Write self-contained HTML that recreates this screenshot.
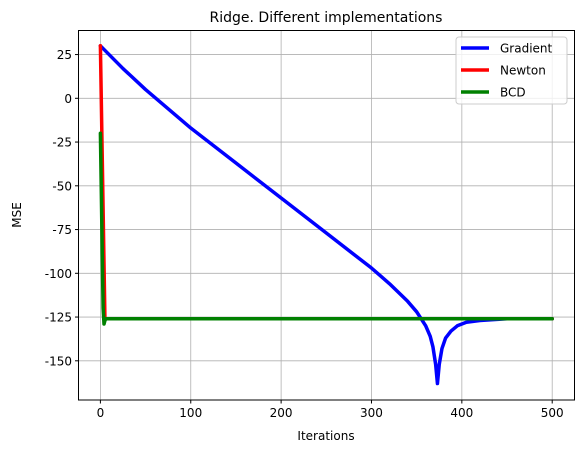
<!DOCTYPE html>
<html><head><meta charset="utf-8"><style>
body{margin:0;background:#fff;}
svg{font-family:"DejaVu Sans","Liberation Sans",sans-serif;}
</style></head><body>
<svg id="chart" width="583" height="453" viewBox="0 0 583 453" xmlns="http://www.w3.org/2000/svg">
<rect width="583" height="453" fill="#fff"/>
<text x="326" y="22" font-size="14" text-anchor="middle" fill="#000">Ridge. Different implementations</text>
<g id="grid"></g>
<g id="series"></g>
<rect x="78.5" y="30.5" width="496" height="369.5" fill="none" stroke="#000" stroke-width="1"/>
<g id="ticks"></g>
<text x="326" y="440" font-size="12" text-anchor="middle">Iterations</text>
<text x="0" y="0" font-size="12" text-anchor="middle" transform="translate(21,215) rotate(-90)">MSE</text>
<g>
<rect x="456" y="37" width="111" height="67" rx="3" fill="#fff" fill-opacity="0.8" stroke="#ccc"/>
<line x1="461" y1="48" x2="489" y2="48" stroke="#0000ff" stroke-width="3.5"/>
<text x="500" y="52.5" font-size="12">Gradient</text>
<line x1="461" y1="70" x2="489" y2="70" stroke="#ff0000" stroke-width="3.5"/>
<text x="500" y="74.5" font-size="12">Newton</text>
<line x1="461" y1="92" x2="489" y2="92" stroke="#008000" stroke-width="3.5"/>
<text x="500" y="96.5" font-size="12">BCD</text>
</g>
</svg>
<script>
const xTicks=[0,100,200,300,400,500];
const yTicks=[25,0,-25,-50,-75,-100,-125,-150];
const gradIter=[0,25,50,75,100,150,200,250,300,320,340,350,355,360,365,368,371,373,375,378,382,388,395,405,420,450,500];
const gradMSE=[30,17,5,-6,-17,-37,-57,-77,-97,-106,-116,-122,-126,-130,-136,-142,-152,-163,-152,-143,-137,-133,-130,-128,-127,-126,-126];
const newtonIter=[0,5,500];
const newtonMSE=[30,-126,-126];
const bcdIter=[0,3,4,5,6,500];
const bcdMSE=[-20,-120,-129,-127,-126,-126];
const X=v=>100.4+v*0.9036;
const Y=v=>98.3-v*1.75;
const NS="http://www.w3.org/2000/svg";
const grid=document.getElementById('grid'),ticks=document.getElementById('ticks'),ser=document.getElementById('series');
function mk(t,a,p){const e=document.createElementNS(NS,t);for(const k in a)e.setAttribute(k,a[k]);p.appendChild(e);return e;}
xTicks.forEach(v=>{
 const g=mk('line',{x1:X(v),x2:X(v),y1:30.5,y2:400,stroke:'#b0b0b0','stroke-width':0.8},grid);
 
 
 mk('line',{x1:X(v),x2:X(v),y1:400,y2:403.5,stroke:'#000'},ticks);
 const t=mk('text',{x:X(v),y:417,'font-size':12,'text-anchor':'middle'},ticks);t.textContent=v;
 
 
});
yTicks.forEach(v=>{
 const g=mk('line',{x1:78.5,x2:574.5,y1:Y(v),y2:Y(v),stroke:'#b0b0b0','stroke-width':0.8},grid);
 
 
 mk('line',{x1:75,x2:78.5,y1:Y(v),y2:Y(v),stroke:'#000'},ticks);
 const t=mk('text',{x:72,y:Y(v)+4.5,'font-size':12,'text-anchor':'end'},ticks);t.textContent=v;
 
 
});
function line(xs,ys,c,name){
 const p=mk('polyline',{points:xs.map((x,i)=>X(x)+','+Y(ys[i])).join(' '),fill:'none',stroke:c,'stroke-width':3.5,'stroke-linejoin':'round','stroke-linecap':'round'},ser);
 
 
}
line(gradIter,gradMSE,'#0000ff','gradient-line');
line(newtonIter,newtonMSE,'#ff0000','newton-line');
line(bcdIter,bcdMSE,'#008000','bcd-line');
</script>
</body></html>
